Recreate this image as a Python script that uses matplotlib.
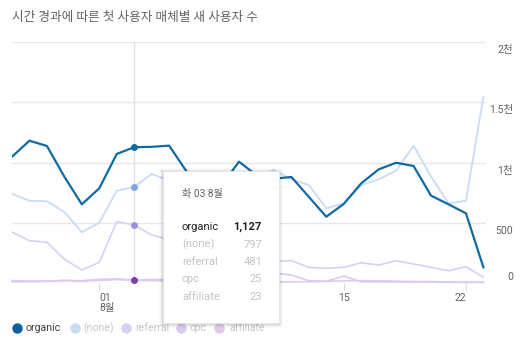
import matplotlib
matplotlib.use("Agg")
import matplotlib.pyplot as plt
from matplotlib.lines import Line2D
from matplotlib.patches import Rectangle

plt.rcParams['font.family'] = ['Roboto', 'Noto Sans CJK KR', 'DejaVu Sans']

# ---- data (Jul 27 .. Aug 23) ----
days = list(range(28))
organic = [1048, 1181, 1137, 882, 653, 786, 1071, 1127, 1130, 1140, 925, 850, 810, 1007,
           895, 865, 880, 715, 550, 656, 827, 943, 998, 971, 725, 653, 578, 130]
none_ = [739, 683, 678, 589, 421, 500, 766, 797, 905, 850, 870, 820, 830, 900,
         880, 938, 860, 813, 620, 661, 813, 860, 932, 1139, 882, 661, 683, 1546]
referral = [423, 351, 338, 197, 108, 172, 509, 481, 398, 362, 320, 270, 230, 190,
            170, 178, 185, 130, 122, 130, 168, 149, 185, 158, 130, 102, 135, 47]
cpc = [20, 15, 14, 22, 18, 30, 35, 25, 28, 30, 40, 55, 70, 90,
       95, 82, 66, 19, 14, 58, 10, 8, 10, 8, 12, 6, 5, 8]
affiliate = [10, 12, 15, 20, 18, 22, 28, 23, 20, 18, 15, 12, 10, 10,
             8, 8, 10, 12, 15, 18, 20, 18, 15, 12, 10, 8, 6, 5]
hover_idx = 7
tick_idx = [5, 19, 26]
tick_labels = ["01\n8월", "15", "22"]
ytick_vals = [0, 500, 1000, 1500, 2000]
ytick_labels = ["0", "500", "1천", "1.5천", "2천"]
series_names = ["organic", "(none)", "referral", "cpc", "affiliate"]
hover_values = ["1,127", "797", "481", "25", "23"]

W, H = 532, 342
fig = plt.figure(figsize=(W / 100, H / 100), dpi=100)
fig.patch.set_facecolor('white')

L, R, T, B = 12, 486, 42, 283
ax = fig.add_axes([L / W, 1 - B / H, (R - L) / W, (B - T) / H])
ax.set_xlim(0, (R - L) / 17.46)
ax.set_ylim(0, 2000)
for s in ax.spines.values():
    s.set_visible(False)
ax.set_facecolor('none')

for v in ytick_vals:
    ax.axhline(v, color='#e8e8e8', lw=1.0, zorder=0)
ax.axvline(hover_idx, color='#e3e3e3', lw=1.0, zorder=0)

c_org = '#126ba0'
c_none = '#c9dcf5'
c_ref = '#d4d2f4'
c_cpc = '#d9cbee'
c_aff = '#e3c9ea'

ax.plot(days, affiliate, color=c_aff, lw=1.2, zorder=2, clip_on=False)
ax.plot(days, cpc, color=c_cpc, lw=1.2, zorder=2, clip_on=False)
ax.plot(days, referral, color=c_ref, lw=1.2, zorder=2)
ax.plot(days, none_, color=c_none, lw=1.3, zorder=2)
ax.plot(days, organic, color=c_org, lw=1.6, zorder=3)

ax.scatter([hover_idx], [organic[hover_idx]], s=16, color=c_org, zorder=5)
ax.scatter([hover_idx], [none_[hover_idx]], s=16, color='#7ea6e3', zorder=5)
ax.scatter([hover_idx], [referral[hover_idx]], s=16, color='#9d95e2', zorder=5)
ax.scatter([hover_idx], [cpc[hover_idx]], s=16, color='#7b3fb0', zorder=5, clip_on=False)

# x ticks
ax.set_xticks(tick_idx)
ax.set_xticklabels(tick_labels, fontsize=7.5, color='#5f6368', linespacing=1.0)
ax.tick_params(axis='x', length=5, width=0.8, color='#dadce0', pad=2)
has = ['left', 'center', 'right']
for lab, ha in zip(ax.get_xticklabels(), has):
    lab.set_ha(ha)
ax.set_yticks([])

# y labels on the right
for v, lab in zip(ytick_vals, ytick_labels):
    dy = 8 if v > 0 else -6
    ypx = B - (B - T) * v / 2000 + dy
    fig.text(513 / W, 1 - ypx / H, lab, ha='right', va='center', fontsize=7.6, color='#5f6368')

# title
fig.text(12 / W, 1 - 17 / H, "시간 경과에 따른 첫 사용자 매체별 새 사용자 수",
         ha='left', va='center', fontsize=9.1, color='#5f6368')

# legend
leg_dot_x = [17, 75, 126, 181, 219]
leg_txt_x = [26, 83, 135, 190, 229]
leg_cols = ['#0b62a3', c_none, c_ref, c_cpc, c_aff]
leg_txtc = ['#3c4043', '#c6c6c6', '#c6c6c6', '#c6c6c6', '#c6c6c6']
ly = 1 - 328 / H
for dx, tx, col, tc, name in zip(leg_dot_x, leg_txt_x, leg_cols, leg_txtc, series_names):
    fig.add_artist(Line2D([dx / W], [ly], marker='o', markersize=7.5, color=col,
                          markeredgewidth=0, transform=fig.transFigure))
    fig.text(tx / W, ly, name, ha='left', va='center', fontsize=7.6, color=tc)

# tooltip
tx0, ty0, tx1, ty1 = 163, 171, 279, 323
for k, a in enumerate([0.06, 0.045, 0.03, 0.015]):
    sh = Rectangle(((tx0 - 1 - k) / W, 1 - (ty1 + 2 + k) / H), (tx1 - tx0 + 2 + 2 * k) / W,
                   (ty1 - ty0 + 2 + 2 * k) / H, transform=fig.transFigure,
                   facecolor='black', alpha=a, edgecolor='none', zorder=9)
    fig.add_artist(sh)
box = Rectangle((tx0 / W, 1 - ty1 / H), (tx1 - tx0) / W, (ty1 - ty0) / H,
                transform=fig.transFigure, facecolor='white', edgecolor='#e6e6e6',
                lw=0.6, zorder=10)
fig.add_artist(box)
fig.text(182 / W, 1 - 194 / H, "화 03 8월", ha='left', va='center', fontsize=7.3,
         color='#5f6368', zorder=11)
row_y = [227, 244.5, 262, 279, 296.5]
for i, (name, val, yy) in enumerate(zip(series_names, hover_values, row_y)):
    c = '#202124' if i == 0 else '#c4c4c4'
    fig.text(182 / W, 1 - yy / H, name, ha='left', va='center', fontsize=8.0, color=c, zorder=11)
    fig.text(262 / W, 1 - yy / H, val, ha='right', va='center', fontsize=8.0, color=c,
             fontweight='bold' if i == 0 else 'normal', zorder=11)

fig.savefig('out.png', dpi=100, facecolor='white')
